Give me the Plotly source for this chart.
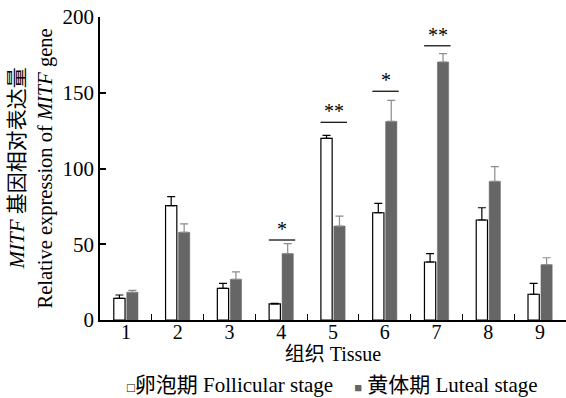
import plotly.graph_objects as go

tissues = [1, 2, 3, 4, 5, 6, 7, 8, 9]
tick_labels = ["1", "2", "3", "4", "5", "6", "7", "8", "9"]
follicular = [14.3, 75.5, 20.9, 10.6, 119.9, 70.8, 38.3, 66.0, 17.0]
follicular_err = [2.2, 5.9, 3.3, 0.4, 2.0, 6.2, 5.5, 8.1, 7.2]
luteal = [18.3, 57.9, 26.9, 43.8, 62.0, 131.1, 170.3, 91.5, 36.5]
luteal_err = [1.3, 5.5, 4.8, 6.6, 6.6, 13.9, 5.5, 9.7, 4.6]
sig_tissue = [4, 5, 6, 7]
sig_label = ["*", "**", "*", "**"]
sig_level = [52.8, 130.5, 151.0, 181.0]
series_names = ["卵泡期 Follicular stage", "黄体期 Luteal stage"]

FONT = "Liberation Serif, Times New Roman, Noto Sans CJK SC, serif"

fig = go.Figure()
fig.add_trace(go.Bar(
    x=tissues, y=follicular, name=series_names[0],
    marker=dict(color="white", line=dict(color="black", width=1.2)),
    error_y=dict(type="data", array=follicular_err, symmetric=False,
                 arrayminus=[0] * len(follicular_err),
                 color="black", thickness=1.2, width=4),
))
fig.add_trace(go.Bar(
    x=tissues, y=luteal, name=series_names[1],
    marker=dict(color="#666666", line=dict(color="#666666", width=0.5)),
    error_y=dict(type="data", array=luteal_err, symmetric=False,
                 arrayminus=[0] * len(luteal_err),
                 color="#8c8c8c", thickness=1.2, width=4),
))

for t, lab, lv in zip(sig_tissue, sig_label, sig_level):
    fig.add_shape(type="line", xref="x", yref="y", x0=t - 0.24, x1=t + 0.27,
                  y0=lv, y1=lv, line=dict(color="black", width=1.2))
    fig.add_annotation(x=t + 0.02, y=lv, xref="x", yref="y", text=lab,
                       showarrow=False, yanchor="bottom", yshift=-2,
                       font=dict(family=FONT, size=20, color="black"))

fig.add_annotation(x=0, y=0.5, xref="paper", yref="paper", xshift=-84, xanchor="center",
                   yanchor="middle",
                   text="<i>MITF</i> 基因相对表达量", textangle=-90,
                   showarrow=False, font=dict(family=FONT, size=21, color="black"))
fig.add_annotation(x=0, y=0.5, xref="paper", yref="paper", xshift=-55, xanchor="center",
                   yanchor="middle",
                   text="Relative expression of <i>MITF</i> gene", textangle=-90,
                   showarrow=False, font=dict(family=FONT, size=20.5, color="black"))

# legend drawn as text with coloured square glyphs
SP = "\u00a0"
fig.add_annotation(
    x=0.5, y=0, xref="paper", yref="paper", yanchor="middle", xanchor="center",
    xshift=-1, yshift=-65, showarrow=False,
    text=("<span style='font-size:13px'>□</span>" + series_names[0] + SP * 4 +
          "<span style='color:#666666;font-size:13px'>■</span> " + series_names[1]),
    font=dict(family=FONT, size=21, color="black"))

fig.update_layout(
    width=566, height=398,
    margin=dict(l=100, r=0, t=17, b=78, autoexpand=False),
    paper_bgcolor="white", plot_bgcolor="white",
    barmode="group", bargap=0.5, bargroupgap=0.13,
    font=dict(family=FONT, size=19, color="black"),
    showlegend=False,
    xaxis=dict(
        range=[0.5, 9.5], tickmode="array", tickvals=tissues, ticktext=tick_labels,
        ticks="", showline=True, linecolor="black", linewidth=1.5,
        showgrid=False, zeroline=False, automargin=False,
        tickfont=dict(family=FONT, size=20), ticklabelstandoff=-7,
        title=dict(text="组织 Tissue", font=dict(family=FONT, size=20), standoff=5),
        minor=dict(ticks="inside", tickmode="array",
                   tickvals=[1.5, 2.5, 3.5, 4.5, 5.5, 6.5, 7.5, 8.5],
                   ticklen=6, tickcolor="black", tickwidth=1.2, showgrid=False),
    ),
    yaxis=dict(
        range=[0, 200], tickmode="array", tickvals=[0, 50, 100, 150, 200],
        ticks="inside", ticklen=6, tickcolor="black", tickwidth=1.5,
        showline=True, linecolor="black", linewidth=1.5,
        showgrid=False, zeroline=False, automargin=False,
        tickfont=dict(family=FONT, size=21),
    ),
)

fig.write_html("out.html", config={"displayModeBar": False},
               post_script="document.body.style.margin='0';document.body.style.overflow='hidden';")
